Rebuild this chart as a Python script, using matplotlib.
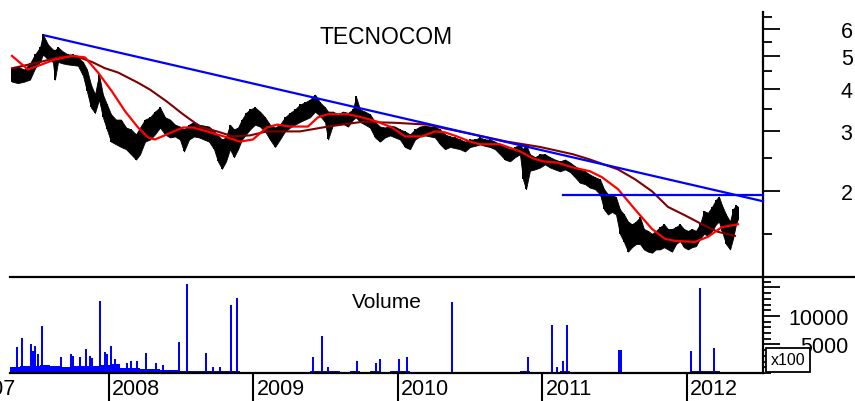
import numpy as np
import matplotlib
matplotlib.use("Agg")
import matplotlib.pyplot as plt
import matplotlib.ticker as mticker
from matplotlib.lines import Line2D

plt.rcParams["font.family"] = ["Liberation Sans", "DejaVu Sans"]

TITLE = "TECNOCOM"

# ── price band (fractional year, high, low) ────────────────────────────────
PX_DATE = [
    2007.329, 2007.370, 2007.412, 2007.453, 2007.488, 2007.523, 2007.543, 2007.578, 2007.612, 2007.626,
    2007.647, 2007.682, 2007.716, 2007.751, 2007.785, 2007.820, 2007.848, 2007.875, 2007.903, 2007.931,
    2007.958, 2007.986, 2008.014, 2008.048, 2008.083, 2008.118, 2008.152, 2008.187, 2008.215, 2008.249,
    2008.284, 2008.318, 2008.353, 2008.388, 2008.422, 2008.457, 2008.491, 2008.519, 2008.554, 2008.588,
    2008.623, 2008.657, 2008.692, 2008.727, 2008.754, 2008.782, 2008.810, 2008.837, 2008.865, 2008.893,
    2008.920, 2008.948, 2008.976, 2009.010, 2009.045, 2009.080, 2009.114, 2009.149, 2009.183, 2009.218,
    2009.253, 2009.287, 2009.322, 2009.356, 2009.391, 2009.426, 2009.460, 2009.495, 2009.516, 2009.550,
    2009.585, 2009.619, 2009.654, 2009.689, 2009.709, 2009.737, 2009.772, 2009.806, 2009.841, 2009.875,
    2009.910, 2009.945, 2009.979, 2010.014, 2010.048, 2010.083, 2010.118, 2010.152, 2010.187, 2010.221,
    2010.256, 2010.291, 2010.325, 2010.360, 2010.394, 2010.429, 2010.464, 2010.498, 2010.533, 2010.567,
    2010.602, 2010.637, 2010.671, 2010.706, 2010.740, 2010.775, 2010.810, 2010.844, 2010.865, 2010.886,
    2010.913, 2010.948, 2010.983, 2011.017, 2011.052, 2011.086, 2011.121, 2011.156, 2011.190, 2011.225,
    2011.259, 2011.294, 2011.329, 2011.363, 2011.398, 2011.426, 2011.453, 2011.481, 2011.509, 2011.536,
    2011.564, 2011.592, 2011.619, 2011.647, 2011.675, 2011.702, 2011.730, 2011.758, 2011.785, 2011.813,
    2011.841, 2011.868, 2011.896, 2011.924, 2011.951, 2011.979, 2012.007, 2012.034, 2012.062, 2012.090,
    2012.118, 2012.145, 2012.173, 2012.201, 2012.221, 2012.242, 2012.270, 2012.298, 2012.318, 2012.339, 2012.353,
]
PX_HIGH = [
    4.60, 4.65, 4.56, 4.75, 5.05, 5.30, 5.78, 5.40, 5.22, 5.20,
    5.30, 5.15, 5.05, 5.05, 4.95, 4.80, 4.56, 4.12, 3.85, 4.41,
    3.85, 3.60, 3.37, 3.25, 3.25, 3.08, 3.04, 2.94, 3.08, 3.25,
    3.30, 3.43, 3.53, 3.30, 3.25, 3.14, 3.10, 3.04, 3.14, 3.20,
    3.14, 3.12, 3.10, 3.00, 2.92, 2.84, 2.88, 3.14, 3.04, 3.08,
    3.25, 3.40, 3.48, 3.53, 3.43, 3.30, 3.14, 3.08, 3.14, 3.30,
    3.40, 3.48, 3.60, 3.65, 3.72, 3.85, 3.65, 3.53, 3.43, 3.43,
    3.37, 3.43, 3.40, 3.48, 3.80, 3.48, 3.43, 3.37, 3.20, 3.10,
    3.08, 3.12, 3.10, 3.04, 3.00, 2.94, 3.04, 3.10, 3.12, 3.10,
    3.10, 3.04, 2.94, 2.90, 2.88, 2.84, 2.80, 2.84, 2.84, 2.88,
    2.84, 2.84, 2.80, 2.75, 2.70, 2.66, 2.70, 2.75, 2.66, 2.75,
    2.57, 2.52, 2.57, 2.57, 2.52, 2.48, 2.45, 2.48, 2.43, 2.37,
    2.32, 2.29, 2.24, 2.20, 2.17, 2.03, 1.96, 1.96, 1.92, 1.77,
    1.71, 1.63, 1.60, 1.63, 1.68, 1.55, 1.53, 1.50, 1.53, 1.57,
    1.60, 1.55, 1.55, 1.57, 1.60, 1.55, 1.53, 1.55, 1.53, 1.60,
    1.75, 1.73, 1.80, 1.89, 1.93, 1.82, 1.71, 1.63, 1.77, 1.82, 1.80,
]
PX_LOW = [
    4.20, 4.16, 4.20, 4.26, 4.60, 4.80, 5.05, 4.88, 4.80, 4.26,
    4.80, 4.75, 4.72, 4.70, 4.68, 4.38, 3.93, 3.53, 3.40, 3.72,
    3.30, 3.04, 2.80, 2.75, 2.70, 2.66, 2.57, 2.48, 2.57, 2.80,
    2.84, 2.94, 3.08, 2.94, 2.88, 2.90, 2.84, 2.62, 2.84, 2.90,
    2.88, 2.84, 2.80, 2.66, 2.45, 2.33, 2.45, 2.66, 2.52, 2.66,
    2.84, 2.94, 3.04, 3.14, 3.10, 3.00, 2.84, 2.70, 2.84, 3.00,
    3.08, 3.14, 3.20, 3.25, 3.30, 3.43, 3.33, 3.20, 2.84, 3.14,
    3.14, 3.16, 3.10, 3.25, 3.30, 3.20, 3.14, 3.08, 2.88, 2.80,
    2.88, 2.92, 2.88, 2.84, 2.70, 2.66, 2.84, 2.90, 2.92, 2.90,
    2.88, 2.75, 2.66, 2.70, 2.68, 2.66, 2.62, 2.70, 2.72, 2.75,
    2.72, 2.70, 2.66, 2.57, 2.48, 2.45, 2.52, 2.57, 2.17, 2.03,
    2.30, 2.32, 2.35, 2.40, 2.35, 2.32, 2.29, 2.32, 2.28, 2.20,
    2.12, 2.10, 2.05, 2.03, 1.96, 1.77, 1.71, 1.74, 1.71, 1.50,
    1.42, 1.33, 1.37, 1.40, 1.40, 1.35, 1.33, 1.32, 1.35, 1.35,
    1.37, 1.35, 1.33, 1.40, 1.43, 1.37, 1.35, 1.37, 1.38, 1.45,
    1.50, 1.48, 1.53, 1.60, 1.63, 1.53, 1.40, 1.35, 1.45, 1.60, 1.66,
]

MA_FAST_DATE = [
    2007.329, 2007.439, 2007.523, 2007.626, 2007.744, 2007.834, 2007.924, 2008.021, 2008.111, 2008.201,
    2008.270, 2008.318, 2008.401, 2008.512, 2008.581, 2008.678, 2008.817, 2008.907, 2008.996, 2009.093,
    2009.163, 2009.253, 2009.322, 2009.377, 2009.446, 2009.516, 2009.654, 2009.751, 2009.861, 2009.958,
    2010.048, 2010.166, 2010.256, 2010.325, 2010.408, 2010.498, 2010.567, 2010.706, 2010.844, 2010.934,
    2011.003, 2011.100, 2011.211, 2011.329, 2011.412, 2011.522, 2011.640, 2011.758, 2011.848, 2011.917,
    2012.055, 2012.145, 2012.242, 2012.353,
]
MA_FAST = [
    5.00, 4.56, 4.70, 4.88, 5.00, 4.95, 4.47, 3.93, 3.44, 3.08,
    2.88, 2.84, 2.94, 3.08, 3.08, 3.00, 2.88, 2.80, 2.84, 3.08,
    3.14, 3.10, 3.10, 3.10, 3.30, 3.37, 3.37, 3.30, 3.20, 3.08,
    2.90, 2.90, 3.00, 2.98, 2.90, 2.80, 2.75, 2.75, 2.62, 2.50,
    2.45, 2.43, 2.35, 2.29, 2.20, 2.03, 1.77, 1.55, 1.45, 1.43,
    1.42, 1.47, 1.57, 1.60,
]
MA_SLOW_DATE = [
    2007.329, 2007.509, 2007.647, 2007.765, 2007.882, 2007.972, 2008.062, 2008.201, 2008.284, 2008.401,
    2008.512, 2008.630, 2008.747, 2008.858, 2008.976, 2009.093, 2009.322, 2009.516, 2009.751, 2009.979,
    2010.207, 2010.325, 2010.519, 2010.754, 2010.983, 2011.211, 2011.329, 2011.522, 2011.640, 2011.758,
    2011.868, 2011.986, 2012.104, 2012.215, 2012.332,
]
MA_SLOW = [
    4.60, 4.78, 4.95, 5.00, 4.80, 4.60, 4.47, 4.17, 3.98, 3.67,
    3.37, 3.10, 3.00, 2.90, 2.92, 3.00, 3.00, 3.10, 3.20, 3.18,
    3.14, 3.06, 2.94, 2.80, 2.70, 2.57, 2.48, 2.32, 2.17, 2.00,
    1.80, 1.70, 1.60, 1.52, 1.48,
]

# trend lines drawn by hand on the chart
TREND_DATE = [2007.557, 2012.526]
TREND_PRICE = [5.74, 1.87]
SUPPORT_DATE = [2011.142, 2012.526]
SUPPORT_PRICE = [1.95, 1.95]

# ── volume (x100) : background level + isolated spikes ─────────────────────
VOL_BASE_DATE = [
    2007.350, 2007.419, 2007.488, 2007.557, 2007.626, 2007.696, 2007.765, 2007.834, 2007.903, 2007.972,
    2008.042, 2008.111, 2008.180, 2008.249, 2008.318, 2008.388, 2008.457, 2008.526, 2008.595, 2008.664,
    2008.734, 2008.803, 2008.872, 2008.941, 2009.010, 2009.080, 2009.149, 2009.218, 2009.287, 2009.356,
    2009.426, 2009.495, 2009.564, 2009.633, 2009.702, 2009.772, 2009.841, 2009.910, 2009.979, 2010.048,
    2010.118, 2010.187, 2010.256, 2010.325, 2010.394, 2010.464, 2010.533, 2010.602, 2010.671, 2010.740,
    2010.810, 2010.879, 2010.948, 2011.017, 2011.086, 2011.156, 2011.225, 2011.294, 2011.363, 2011.432,
    2011.502, 2011.571, 2011.640, 2011.709, 2011.778, 2011.848, 2011.917, 2011.986, 2012.055, 2012.124,
    2012.194, 2012.263, 2012.332,
]
VOL_BASE = [
    1000, 1200, 1300, 1400, 1200, 1100, 1300, 1200, 1300, 1400,
    1500, 900, 800, 700, 700, 600, 500, 400, 300, 300,
    400, 300, 300, 250, 200, 150, 150, 200, 200, 200,
    300, 400, 300, 200, 300, 200, 300, 250, 300, 300,
    150, 100, 100, 150, 200, 100, 100, 100, 100, 100,
    150, 300, 200, 200, 250, 300, 150, 150, 150, 200,
    150, 200, 100, 150, 100, 100, 100, 150, 300, 400,
    400, 250, 200,
]
VOL_SPIKE_DATE = [
    2007.363, 2007.398, 2007.460, 2007.474, 2007.488, 2007.509, 2007.536, 2007.668, 2007.737, 2007.751,
    2007.799, 2007.841, 2007.869, 2007.882, 2007.938, 2007.972, 2007.986, 2008.014, 2008.042, 2008.125,
    2008.152, 2008.194, 2008.256, 2008.325, 2008.374, 2008.484, 2008.540, 2008.671, 2008.720, 2008.768,
    2008.844, 2008.886, 2009.412, 2009.474, 2009.516, 2009.716, 2009.848, 2009.875, 2010.007, 2010.062,
    2010.374, 2010.899, 2011.066, 2011.100, 2011.142, 2011.169, 2011.529, 2011.543, 2012.027, 2012.090,
    2012.187,
]
VOL_SPIKE = [
    4560, 6140, 5000, 3900, 4740, 3330, 8250, 2750, 3330, 3000,
    2750, 4200, 3040, 2700, 12600, 3740, 3400, 4740, 2450, 1700,
    2100, 2100, 3500, 1700, 1400, 5440, 15600, 3500, 1000, 1000,
    11900, 13150, 2750, 6430, 1000, 2050, 1700, 2450, 2450, 2750,
    12500, 2800, 8450, 1000, 2050, 8450, 4100, 4100, 3900, 14900,
    4400,
]

YEARS = [2007, 2008, 2009, 2010, 2011, 2012]
PRICE_TICKS = [2, 3, 4, 5, 6]
PRICE_MINOR = [1.5, 2.5, 3.5, 4.5, 5.5, 6.5]
VOL_TICKS = [5000, 10000, 15000]
VOL_LABELS = ["5000", "10000", ""]

# ── layout in pixels of the 855x402 canvas ──────────────────────────────────
W, H = 855, 402


def rect(l, t, r, b):
    return [l / W, 1 - b / H, (r - l) / W, (b - t) / H]


fig = plt.figure(figsize=(W / 100, H / 100), dpi=100)
ax = fig.add_axes(rect(10, 13, 763, 278))
axv = fig.add_axes(rect(10, 278, 763, 374), sharex=ax)

# price bars
ax.fill_between(PX_DATE, PX_LOW, PX_HIGH, color="black", lw=0.6, zorder=2)
ax.vlines(PX_DATE, PX_LOW, PX_HIGH, color="black", lw=1.4, zorder=2)
ax.plot(MA_SLOW_DATE, MA_SLOW, color="#7f0000", lw=1.5, zorder=3)
ax.plot(MA_FAST_DATE, MA_FAST, color="#ff0000", lw=1.6, zorder=4)
ax.plot(TREND_DATE, TREND_PRICE, color="#0000ff", lw=1.6, zorder=5, clip_on=False)
ax.plot(SUPPORT_DATE, SUPPORT_PRICE, color="#0000ff", lw=1.6, zorder=5, clip_on=False)

ax.set_xlim(2007.315, 2012.526)
ax.set_yscale("log")
ax.set_ylim(1.12, 6.73)
ax.yaxis.tick_right()
ax.yaxis.set_major_locator(mticker.FixedLocator(PRICE_TICKS))
ax.yaxis.set_major_formatter(mticker.FixedFormatter([str(t) for t in PRICE_TICKS]))
ax.yaxis.set_minor_locator(mticker.FixedLocator(PRICE_MINOR))
ax.yaxis.set_minor_formatter(mticker.NullFormatter())
ax.tick_params(axis="y", which="major", direction="out", length=12.5, width=1.3,
               labelsize=15.5, pad=52)
ax.tick_params(axis="y", which="minor", direction="out", length=6.5, width=1.3)
ax.tick_params(axis="x", which="both", bottom=False, labelbottom=False)
for lab in ax.get_yticklabels():
    lab.set_horizontalalignment("right")
for s in ("left", "top"):
    ax.spines[s].set_visible(False)
ax.spines["right"].set_linewidth(1.6)
ax.spines["bottom"].set_visible(False)

fig.text(386 / W, 1 - 37 / H, TITLE, ha="center", va="center", fontsize=16.5)

# volume
axv.bar(VOL_BASE_DATE, VOL_BASE, width=0.0692, color="#0000ff", lw=0)
axv.bar(VOL_SPIKE_DATE, VOL_SPIKE, width=0.012, color="#0000ff", lw=0)
axv.set_ylim(0, 16842)
axv.yaxis.tick_right()
axv.yaxis.set_major_locator(mticker.FixedLocator(VOL_TICKS))
axv.yaxis.set_major_formatter(mticker.FixedFormatter(VOL_LABELS))
axv.yaxis.set_minor_locator(mticker.MultipleLocator(1000))
axv.tick_params(axis="y", which="major", direction="out", length=12.5, width=1.3,
                labelsize=15.5, pad=49)
axv.tick_params(axis="y", which="minor", direction="out", length=6, width=1.3)
for lab in axv.get_yticklabels():
    lab.set_horizontalalignment("right")
for s in ("left", "top"):
    axv.spines[s].set_visible(False)
axv.spines["right"].set_linewidth(1.6)
axv.spines["bottom"].set_linewidth(1.6)

axv.set_xticks(YEARS[1:])
axv.tick_params(axis="x", which="major", direction="out", length=20, width=1.5,
                labelbottom=False)
for yr in YEARS:
    axv.annotate(str(yr), xy=(yr, 0), xycoords=("data", "axes fraction"),
                 xytext=(3, -16), textcoords="offset pixels",
                 ha="left", va="center", fontsize=15.5, annotation_clip=False)

axv.text(387 / W, 1 - 302 / H, "Volume", transform=fig.transFigure,
         ha="center", va="center", fontsize=15)
fig.text(788 / W, 1 - 361 / H, "x100", ha="center", va="center", fontsize=11.5,
         zorder=10,
         bbox=dict(boxstyle="square,pad=0.3", facecolor="white",
                   edgecolor="black", lw=1.3))

# separator running across the full width
fig.add_artist(Line2D([10 / W, 1.0], [1 - 278 / H] * 2, color="black", lw=1.6))

fig.savefig("out.png", dpi=100)
